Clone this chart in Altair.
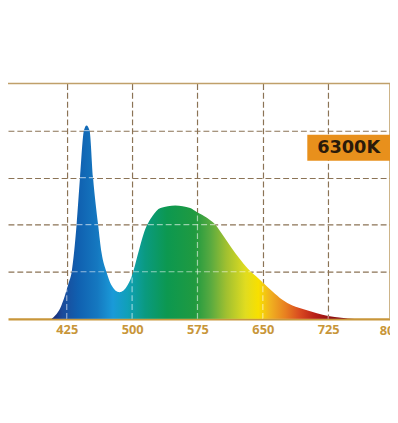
import altair as alt
import numpy as np
import pandas as pd

# ---- data ----
WAVELENGTH = [407.7, 412.0, 417.5, 423.0, 427.0, 430.7, 436.3, 440.2, 444.7, 447.7,
              451.2, 455.2, 461.0, 465.0, 470.5, 476.0, 485.5, 494.9, 500.6, 506.2,
              513.8, 523.2, 532.6, 549.5, 566.6, 574.5, 585.8, 595.1, 604.6, 613.6,
              623.4, 632.9, 642.2, 650.9, 661.1, 672.4, 683.9, 698.7, 712.0, 725.0,
              740.0, 755.0]
INTENSITY = [0.0, 1.5, 4.5, 10.0, 15.0, 20.0, 40.0, 60.0, 80.0, 82.2,
             80.0, 60.0, 40.0, 28.0, 20.0, 14.5, 11.3, 14.4, 19.2, 26.9,
             36.8, 43.6, 47.1, 48.2, 47.1, 45.3, 43.0, 40.2, 35.3, 30.4,
             25.5, 21.3, 18.1, 15.1, 11.6, 8.1, 5.7, 3.9, 2.4, 1.2,
             0.5, 0.0]

TICK_VALUES = [425, 500, 575, 650, 725]
EDGE_TICK = [800]
GRID_LEVELS = [20, 40, 60, 80]
BADGE_TEXT = ["6300K"]

# spectral colours of the fill (wavelength -> colour)
STOP_WL = [408, 420, 438, 460, 478, 495, 515, 540, 572, 590, 608, 630, 645, 659, 676, 693, 710, 728, 755]
STOP_COLOR = ["#1a2870", "#1a4a9a", "#1060b0", "#1578c0", "#1a9ad8", "#10a0b8", "#0a9a80",
              "#0c9850", "#209a40", "#58aa40", "#a0c030", "#e0dc20", "#f8e000", "#f0b020",
              "#e88020", "#d84820", "#b82018", "#901010", "#801010"]

# ---- styles / layout ----
X_DOMAIN = [357.6, 795.9]
Y_DOMAIN = [0, 100]
GOLD = "#c8963a"
FRAME = "#c0a06a"
GRID = "#8b7355"
DASH = [6, 3]

xs = alt.Scale(domain=X_DOMAIN, nice=False, zero=False)
ys = alt.Scale(domain=Y_DOMAIN, nice=False, zero=False)
AX = alt.Axis(values=TICK_VALUES, title=None, ticks=False, domain=True,
              domainColor=GOLD, domainWidth=2.2, labelColor=GOLD,
              labelFont="Open Sans", labelFontWeight="bold", labelFontSize=13,
              labelPadding=5, grid=True, gridColor=GRID, gridDash=DASH,
              gridWidth=1.2, labelFlush=False)
AY = alt.Axis(values=GRID_LEVELS, title=None, labels=False, ticks=False,
              domain=False, grid=True, gridColor=GRID, gridDash=DASH, gridWidth=1.2)


def X(f):
    return alt.X(f, scale=xs, axis=AX)


def Y(f):
    return alt.Y(f, scale=ys, axis=AY)


spec = pd.DataFrame({"wl": WAVELENGTH, "v": INTENSITY})

wmin, wmax = min(WAVELENGTH), max(WAVELENGTH)
stops = [alt.GradientStop(offset=float(min(max((w - wmin) / (wmax - wmin), 0), 1)), color=c)
         for w, c in zip(STOP_WL, STOP_COLOR)]
fill = alt.Gradient(gradient="linear", stops=stops, x1=0, x2=1, y1=0, y2=0)

area = alt.Chart(spec).mark_area(color=fill, interpolate="monotone").encode(
    x=X("wl:Q"), y=Y("v:Q"))

# light dashed grid segments visible over the filled spectrum
vseg = pd.DataFrame({"x": TICK_VALUES,
                     "y": [0] * len(TICK_VALUES),
                     "y2": [float(np.interp(g, WAVELENGTH, INTENSITY)) for g in TICK_VALUES]})
hrows = []
for lv in GRID_LEVELS:
    cross = []
    for i in range(len(WAVELENGTH) - 1):
        a, b = INTENSITY[i] - lv, INTENSITY[i + 1] - lv
        if a * b < 0 or (a == 0 and b != 0):
            t = a / (a - b)
            cross.append(WAVELENGTH[i] + t * (WAVELENGTH[i + 1] - WAVELENGTH[i]))
    for j in range(0, len(cross) - 1, 2):
        hrows.append({"x": cross[j], "x2": cross[j + 1], "y": lv})
hseg = pd.DataFrame(hrows)

vlight = alt.Chart(vseg).mark_rule(color="white", opacity=0.55, strokeDash=DASH, strokeWidth=1.2).encode(
    x=X("x:Q"), y=Y("y:Q"), y2="y2:Q")
hlight = alt.Chart(hseg).mark_rule(color="white", opacity=0.55, strokeDash=DASH, strokeWidth=1.2).encode(
    x=X("x:Q"), x2="x2:Q", y=Y("y:Q"))

# frame: top and right border
top = pd.DataFrame({"x": [X_DOMAIN[0]], "x2": [X_DOMAIN[1]], "y": [Y_DOMAIN[1]]})
right = pd.DataFrame({"x": [X_DOMAIN[1]], "y": [Y_DOMAIN[0]], "y2": [Y_DOMAIN[1]]})
top_rule = alt.Chart(top).mark_rule(color=FRAME, strokeWidth=1.6).encode(
    x=X("x:Q"), x2="x2:Q", y=Y("y:Q"))
right_rule = alt.Chart(right).mark_rule(color=FRAME, strokeWidth=1.6).encode(
    x=X("x:Q"), y=Y("y:Q"), y2="y2:Q")

# cut-off "800" label at the right edge
edge = pd.DataFrame({"x": EDGE_TICK, "y": [0], "t": [str(v) for v in EDGE_TICK]})
edge_lbl = alt.Chart(edge).mark_text(font="Open Sans", fontWeight="bold", fontSize=13,
                                     color=GOLD, baseline="top", dy=6, dx=-3).encode(
    x=X("x:Q"), y=Y("y:Q"), text="t:N")

# badge
badge_df = pd.DataFrame({"t": BADGE_TEXT})
badge = alt.Chart(badge_df).mark_rect(color="#e8901c").encode(
    x=alt.value(304), x2=alt.value(388), y=alt.value(52), y2=alt.value(78.5))
badge_txt = alt.Chart(badge_df).mark_text(font="DejaVu Sans", fontWeight="bold", fontSize=18,
                                          color="#2a1a0a", baseline="middle", align="center").encode(
    x=alt.value(346), y=alt.value(66), text="t:N")

chart = alt.layer(area, vlight, hlight, top_rule, right_rule, edge_lbl, badge, badge_txt).properties(
    width=388, height=239,
    background="white",
    autosize=alt.AutoSizeParams(type="none"),
    padding={"left": 0, "top": 74, "right": 0, "bottom": 30},
).configure_view(strokeWidth=0, stroke="transparent")

chart.save("out.html", embed_options={"renderer": "svg", "actions": False})
